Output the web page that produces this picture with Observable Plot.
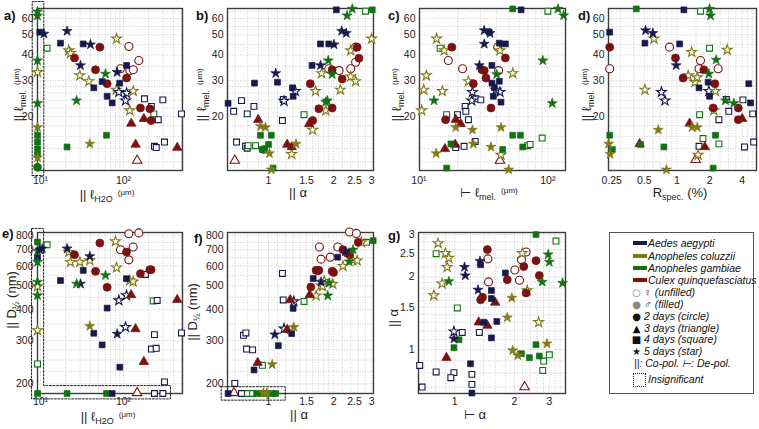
<!DOCTYPE html>
<html><head><meta charset="utf-8">
<script src="https://cdn.jsdelivr.net/npm/d3@7"></script>
<script src="https://cdn.jsdelivr.net/npm/@observablehq/plot@0.6"></script>
<style>
body{margin:0;background:#fff;font-family:"Liberation Sans",Arial,sans-serif;}
#wrap{position:relative;width:759px;height:429px;overflow:hidden;background:#fff;}
.pl{position:absolute;}
.pl svg{overflow:visible;}
.lab{position:absolute;font-size:13px;color:#222;white-space:nowrap;line-height:14px;}
.cx{transform:translate(-50%,-50%);}
.rot{transform:translate(-50%,-50%) rotate(-90deg);}
.plab{position:absolute;font-weight:bold;font-size:13px;color:#111;}
.u{font-size:8px;position:relative;top:-4px;margin-left:5px;}
.lab sub{font-size:9px;vertical-align:-3px;line-height:0;}
.lg{position:absolute;font-size:10.5px;font-style:italic;color:#111;white-space:nowrap;line-height:11px;}
.sw{position:absolute;width:14px;height:4px;}
.sym{position:absolute;top:0;width:11px;text-align:center;font-size:10px;line-height:11px;font-style:normal;font-family:"DejaVu Sans",sans-serif;}
</style></head><body><div id="wrap">
<div class="plab" style="left:4px;top:8px">a)</div>
<div class="plab" style="left:196px;top:8px">b)</div>
<div class="plab" style="left:388px;top:8px">c)</div>
<div class="plab" style="left:578px;top:8px">d)</div>
<div class="plab" style="left:2px;top:226px">e)</div>
<div class="plab" style="left:194px;top:231px">f)</div>
<div class="plab" style="left:388px;top:228px">g)</div>

<div class="lab rot" style="left:20px;top:95px">|| ℓ<sub>mel.</sub><span class="u">(μm)</span></div>
<div class="lab rot" style="left:203px;top:95px">|| ℓ<sub>mel.</sub><span class="u">(μm)</span></div>
<div class="lab rot" style="left:398px;top:95px">|| ℓ<sub>mel.</sub><span class="u">(μm)</span></div>
<div class="lab rot" style="left:588px;top:95px">|| ℓ<sub>mel.</sub><span class="u">(μm)</span></div>
<div class="lab rot" style="left:12px;top:300px">|| D<sub>½</sub> (nm)</div>
<div class="lab rot" style="left:193px;top:312px">|| D<sub>½</sub> (nm)</div>
<div class="lab rot" style="left:394px;top:318px">|| α</div>

<div class="lab cx" style="left:107px;top:196px">|| ℓ<sub>H2O</sub><span class="u">(μm)</span></div>
<div class="lab cx" style="left:298px;top:193px">|| α</div>
<div class="lab cx" style="left:489px;top:194px">⊢ ℓ<sub>mel.</sub><span class="u">(μm)</span></div>
<div class="lab cx" style="left:680px;top:193px">R<sub>spec.</sub> (%)</div>
<div class="lab cx" style="left:108px;top:418px">|| ℓ<sub>H2O</sub><span class="u">(μm)</span></div>
<div class="lab cx" style="left:299px;top:415px">|| α</div>
<div class="lab cx" style="left:475px;top:415px">⊢ α</div>

<div style="position:absolute;left:609px;top:232px;width:143px;height:160px;border:1px solid #555;"></div>
<div class="sw" style="left:633px;top:241px;background:#17194a"></div><div class="lg" style="left:648px;top:238px">Aedes aegypti</div>
<div class="sw" style="left:633px;top:254px;background:#7f7b16"></div><div class="lg" style="left:648px;top:251px">Anopheles coluzzii</div>
<div class="sw" style="left:633px;top:266px;background:#137014"></div><div class="lg" style="left:648px;top:263px">Anopheles gambiae</div>
<div class="sw" style="left:633px;top:278px;background:#7a1212"></div><div class="lg" style="left:648px;top:275px">Culex quinquefasciatus</div>
<div class="lg" style="left:631px;top:287px"><span class="sym" style="left:0;color:#888">○</span><span style="margin-left:13px">♀ (unfilled)</span></div>
<div class="lg" style="left:631px;top:299px"><span class="sym" style="left:0;color:#888">●</span><span style="margin-left:13px">♂ (filled)</span></div>
<div class="lg" style="left:631px;top:311px"><span class="sym" style="left:0">●</span><span style="margin-left:13px">2 days (circle)</span></div>
<div class="lg" style="left:631px;top:323px"><span class="sym" style="left:0">▲</span><span style="margin-left:13px">3 days (triangle)</span></div>
<div class="lg" style="left:631px;top:334px"><span class="sym" style="left:0">■</span><span style="margin-left:13px">4 days (square)</span></div>
<div class="lg" style="left:631px;top:346px"><span class="sym" style="left:0">★</span><span style="margin-left:13px">5 days (star)</span></div>
<div class="lg" style="left:634px;top:358px">||: Co-pol.  ⊢: De-pol.</div>
<div style="position:absolute;left:633px;top:373px;width:11px;height:12px;border:1px dotted #222;"></div><div class="lg" style="left:648px;top:374px">Insignificant</div>
</div>
<script>
const spName = {A:"Aedes aegypti", C:"Anopheles coluzzii", G:"Anopheles gambiae", Q:"Culex quinquefasciatus"};
const species = ["Aedes aegypti","Anopheles coluzzii","Anopheles gambiae","Culex quinquefasciatus"];
const speciesColors = ["#17194a","#7f7b16","#137014","#7a1212"];

// [species, sex (F unfilled / M filled), shape (c circle, t triangle, s square, * star), x, y]
const panelA = [
["G","M","*",9.2,65],["G","M","*",9.2,62],["G","M","*",9.2,37.5],["C","F","*",9.2,32.9],["G","M","*",9.2,23.2],["C","M","*",9.2,17.7],["G","M","s",9.2,16.2],["G","M","s",9.2,15],["G","M","s",9.2,13.9],["G","M","s",9.2,13],["C","M","*",9.2,12.6],["G","M","c",9.2,11.3],
["A","M","s",9.8,51.6],["A","M","*",11,50.6],["G","F","s",12,43.1],["A","M","*",20.9,52.2],["A","M","s",17.4,45.6],["A","M","s",32.7,45.2],["A","M","*",40,44.9],["Q","M","c",51.9,43.6],["C","F","*",82.4,47.9],["C","F","*",21.9,42],["C","F","*",23,40.7],["Q","M","c",25.7,38.6],["A","M","*",30.3,35.5],["Q","M","c",46,33.8],["G","M","*",60.7,32.3],["C","F","*",29.8,31.7],["C","F","*",38.2,29.7],["A","M","s",55.3,29.6],["A","M","s",43.9,27.6],["Q","M","c",63.5,28.9],["A","M","*",83.9,32.9],["Q","F","c",116,43.9],["Q","F","c",153,37.5],["Q","F","c",92,34.2],["Q","F","c",119,33.5],["Q","F","c",131,33.8],["A","M","s",109,35.5],["Q","M","c",109,30.8],["A","M","s",90,29.1],["C","F","*",82,27],["A","F","*",88,26.3],["A","F","*",109,26],["A","F","*",106,23.9],["C","F","*",131,26.6],["A","M","s",63.5,25.1],["A","M","s",73,23.3],["G","M","*",27.2,23.9],["C","F","*",119,21.4],["A","F","s",179,24.4],["A","F","s",298,24.1],["A","F","s",217,22.4],["G","F","s",232,20.6],["A","F","s",262,19.3],["A","F","s",500,20.6],["Q","M","c",160,22],["Q","M","c",208,21.8],["Q","M","c",215,19.1],["Q","M","t",124,18.5],["Q","M","t",176,19.5],["G","M","s",62.4,16.2],["G","M","s",20.9,14.2],["C","M","*",39.3,14.7],["Q","M","t",140,14.6],["A","F","s",236,14.3],["A","F","s",248,14.1],["A","F","s",312,15],["Q","M","t",444,14.1],["Q","F","t",146,12.2]
];
const panelB = [
["A","M","s",2.06,66.3],["G","M","*",2.44,67],["G","M","*",2.31,62.2],["G","F","s",2.81,65.3],["G","M","s",3.02,66.3],["A","M","*",2.18,52.2],["A","M","*",2.29,51],["C","F","*",3.0,47.9],["A","M","s",1.74,45.2],["A","M","s",1.9,45.2],["A","M","*",2.01,44.9],["Q","F","c",2.53,43.6],["Q","M","c",2.57,43.6],["C","F","*",2.4,42],["A","M","s",1.59,35.5],["A","M","*",1.74,35.5],["G","M","*",1.89,37.5],["C","F","*",1.76,32.5],["Q","M","c",2.62,38.5],["Q","F","c",2.53,36.8],["Q","F","c",1.9,34.2],["Q","F","c",2.12,33.5],["Q","F","c",2.4,34.2],["Q","M","c",1.97,33.8],["G","M","*",1.97,32.1],["Q","M","c",2.19,30.5],["C","F","*",2.4,31.3],["C","F","*",2.53,29.7],["C","F","*",2.15,27],["A","M","*",1.08,32.5],["A","M","s",1.1,29.4],["A","M","s",0.861,29.1],["A","M","s",1.29,27.6],["A","M","s",1.3,25.1],["A","F","*",1.33,26.6],["A","F","*",1.18,23.8],["A","F","s",1.17,24.2],["Q","M","c",1.56,28.9],["C","F","*",1.65,26.6],["G","M","*",1.87,23.9],["G","M","*",1.84,23.5],["Q","M","c",1.71,21.8],["Q","M","c",1.97,22],["C","F","*",1.84,21.4],["A","M","s",0.65,23.2],["A","F","s",0.69,21.2],["A","F","s",0.75,23.9],["A","F","s",0.797,20.6],["A","F","s",0.856,22.4],["A","F","s",1.16,19.1],["G","F","s",1.46,20.4],["Q","M","t",0.896,19.3],["Q","M","c",1.6,19.1],["Q","M","t",1.54,18.4],["C","F","*",1.6,17.2],["C","M","*",0.918,17.9],["C","M","*",0.968,17.7],["G","M","s",0.918,16.2],["G","M","s",1.03,16.2],["A","F","s",0.711,15],["A","F","s",0.783,14.3],["A","F","s",0.797,14],["G","F","s",0.805,14.4],["G","F","s",0.871,14.4],["G","M","s",0.935,13.8],["G","M","s",1.0,14.6],["G","M","c",0.95,13.8],["C","M","*",1.01,13.2],["Q","M","t",1.22,14.6],["Q","M","t",1.28,14.2],["C","M","*",1.34,14.7],["C","F","*",1.28,13.1],["Q","F","t",0.698,12.2],["G","M","s",1.05,11.2],["C","M","*",1.03,11]
];
const panelC = [
["G","M","s",53.4,67],["A","M","s",62,66.3],["G","F","s",100,65.3],["G","M","*",119.7,67],["G","M","*",132.5,62.2],["C","F","*",13.7,47.9],["G","F","s",14.6,43.1],["C","F","*",15.7,42],["Q","M","c",18,43.6],["A","M","*",32.1,52.6],["A","M","*",35.6,51],["A","M","s",35.1,51.6],["A","M","*",32.1,45.2],["A","M","s",42,45.6],["A","M","s",46.8,45.2],["Q","F","c",40.8,43.6],["C","F","*",42.5,42],["Q","M","c",46.8,38.6],["Q","F","c",16.9,37.5],["Q","F","c",21.8,34.2],["Q","M","c",30.8,33.8],["Q","M","c",32.1,33.5],["A","M","*",29.4,35.5],["Q","M","c",33.1,30.8],["Q","F","c",41.5,33.5],["A","M","s",36.8,35.5],["G","M","*",40.1,32.1],["C","F","*",53.4,32.5],["C","F","*",11.4,31.7],["C","F","*",10.9,27],["C","F","*",10.5,21.4],["C","F","*",15.2,26.6],["G","M","*",13.1,23.9],["C","F","*",24.2,29.7],["Q","M","c",26.4,28.9],["A","M","s",36.8,29.1],["A","M","s",42,29.7],["A","M","s",38.4,27.6],["A","M","s",37.7,25.1],["A","M","s",43.3,23.5],["A","F","*",26,26.3],["A","F","*",25.7,23.9],["A","F","*",42.5,26.3],["A","F","*",39.6,27],["A","F","s",27.7,24.4],["A","F","s",30.2,24.1],["A","F","s",22.8,22.4],["A","F","s",23.1,21.2],["A","F","s",19.9,20.4],["A","F","s",24.2,19.3],["Q","M","c",36.2,22],["G","M","*",91.4,37.5],["G","M","*",108,23.2],["G","F","s",16.4,20.4],["Q","M","c",16.1,19.3],["Q","M","t",19.3,19.3],["Q","M","t",21.1,18.4],["C","M","*",19.3,17.7],["C","M","*",26,17.2],["C","M","*",43.3,17.7],["G","M","s",53.4,16.2],["G","M","s",61.2,16.2],["G","M","s",63.8,14.2],["G","F","s",90.3,15.7],["G","F","s",69.8,14.4],["G","F","s",72.8,14.6],["A","F","s",27.3,15.1],["A","F","s",22.4,14.3],["A","F","s",19.3,14.1],["G","M","s",17.7,14.7],["Q","M","t",19.1,14.6],["Q","M","t",15.9,13.9],["C","M","*",26.4,14.7],["C","M","*",36.2,14.2],["C","M","*",13.6,13.2],["G","M","s",44.6,13.8],["C","F","*",43.3,13],["Q","F","t",42.5,12.2],["G","M","s",16.4,11.2],["C","M","*",49.7,11]
];
const panelD = [
["G","M","s",0.422,67],["A","M","s",1.16,66.3],["G","F","s",1.65,65.3],["G","M","*",2.0,67],["G","M","*",2.04,62.2],["A","M","s",0.24,51.6],["A","M","*",0.514,52.6],["A","M","*",0.6,51],["C","F","*",0.614,47.9],["A","M","s",0.507,45.6],["A","M","s",1.06,45.2],["Q","M","c",0.24,43.6],["Q","F","c",0.856,43.6],["Q","F","c",0.24,34.2],["C","F","*",1.37,41.2],["C","F","*",2.91,42.3],["G","F","s",2.0,43.1],["Q","M","c",0.97,38.6],["A","M","*",0.985,35.5],["Q","F","c",1.65,37.5],["G","M","*",2.3,37.8],["Q","M","c",1.14,30.8],["Q","F","c",1.6,34.2],["Q","F","c",2.4,34.2],["Q","M","c",1.77,33.8],["C","F","*",1.27,31.7],["C","F","*",1.47,29.4],["C","F","*",1.54,31],["A","M","s",1.6,27.6],["A","M","s",1.94,29.4],["A","M","s",2.0,25.1],["Q","M","c",2.24,28.9],["G","M","*",1.97,32.3],["C","F","*",0.507,27],["A","F","*",0.72,26.3],["A","F","*",0.776,23.9],["A","F","*",1.97,26.6],["C","F","*",2.27,26.6],["A","M","s",4.6,28.9],["A","M","s",4.77,23.3],["G","M","*",2.81,23.9],["G","M","*",3.35,23.2],["A","F","s",2.85,24.2],["A","F","s",3.01,21.2],["A","F","s",4.06,24.1],["A","F","s",5.0,20.6],["A","F","s",2.44,19.3],["Q","M","c",3.68,22],["Q","M","c",2.16,22],["Q","M","c",3.68,19.3],["Q","M","t",4.0,19.5],["C","F","*",2.19,21.4],["G","F","s",1.62,20.4],["Q","M","t",1.31,18.5],["C","M","*",1.54,17.7],["C","M","*",1.38,17.7],["C","M","*",0.673,17.2],["G","M","s",0.24,16.2],["G","M","s",2.27,16.2],["G","F","s",1.74,15.6],["A","F","s",1.6,14.3],["A","F","s",4.2,14.2],["A","F","s",5.1,15],["G","F","s",2.44,14.7],["C","M","*",0.235,14.7],["C","M","*",0.242,13.1],["G","M","s",0.254,13.8],["G","M","s",0.463,14.6],["Q","M","t",0.453,14.7],["G","M","s",0.759,14.2],["Q","M","t",1.81,14.2],["C","F","*",1.57,13],["Q","F","t",1.49,12.3],["G","M","s",2.16,11.2],["C","M","*",0.8,11]
];
const panelE = [
["G","M","s",9.2,752],["G","M","*",9.2,692],["G","M","*",9.2,624],["A","M","s",9.2,650],["G","M","*",9.2,518],["G","M","*",9.2,457],["C","F","*",9.2,497],["C","F","*",9.2,330],["G","F","s",9.2,241],["A","M","*",10.5,707],["A","M","*",9.8,700],["G","F","s",12,733],
["G","M","s",9.2,183],["G","M","s",20.9,183],["G","M","s",62.4,183],["A","M","s",73,183],["Q","F","t",146,184],["A","F","s",236,183],["A","F","s",298,183],
["A","M","*",20.9,707],["A","M","*",30.3,509],["A","M","*",39.3,658],["C","F","*",21.9,685],["C","F","*",23,624],["C","F","*",29.8,624],["C","F","*",39.3,634],["C","F","*",80.1,757],["C","F","*",82.4,592],["Q","M","c",25.7,668],["Q","M","c",51.9,745],["Q","M","c",46,572],["Q","M","c",63.5,493],["Q","M","c",108.6,685],["Q","M","c",160,560],["Q","M","c",207.5,581],["Q","M","c",215,581],["Q","F","c",115.9,813],["Q","F","c",153,819],["Q","F","c",92,700],["Q","F","c",130.7,718],["Q","F","c",115.9,637],["A","M","s",17.4,525],["A","M","s",32.7,577],["A","M","s",108.6,534],["G","M","*",60.7,551],["G","M","*",27.2,509],["C","F","*",119,525],["C","F","*",130.7,520],["A","M","s",63.5,406],["A","M","s",43.9,321],["A","M","s",55.3,288],["A","M","s",90.3,234],["A","F","*",87.9,436],["A","F","*",108.6,457],["A","F","*",105.7,340],["Q","M","t",123.6,459],["Q","M","t",139.6,334],["Q","M","t",175.8,246],["Q","M","t",443.6,439],["C","M","*",39.3,343],["A","M","*",83.9,319],["G","F","s",227.7,434],["A","F","s",254.5,436],["A","F","s",236,317],["A","F","s",217,277],["A","F","s",247.6,279],["A","F","s",311.9,204],["A","F","s",500,322],["A","F","s",184,556]
];
const panelF = [
["A","M","s",0.65,183],["Q","F","t",0.692,184],["A","F","s",0.75,183],["G","F","s",0.8,183],["G","F","s",0.844,183],["G","M","s",0.881,183],["G","M","s",0.931,183],["G","M","s",0.982,183],["G","M","s",1.04,183],["G","M","s",1.08,183],["C","M","*",0.947,184],["C","M","*",0.982,184],
["A","F","s",0.698,201],["A","F","s",0.766,315],["A","F","s",0.786,322],["A","F","s",0.791,277],["A","F","s",0.844,275],["Q","M","t",0.891,244],["G","F","s",0.937,238],["A","M","s",0.857,228],["C","M","*",1.04,240],["A","M","s",1.11,286],["A","M","*",1.07,317],["A","F","*",1.18,335],["Q","M","t",1.22,332],["C","M","*",1.31,340],["A","M","s",1.28,320],["A","F","s",1.16,561],["A","F","s",1.17,438],["Q","M","t",1.26,438],["A","F","*",1.31,432],["A","M","s",1.3,405],["G","F","s",1.46,432],["Q","M","t",1.55,459],["Q","M","c",1.57,494],["A","M","s",1.61,535],["C","F","*",1.66,456],["C","F","*",1.75,502],["Q","M","c",1.66,578],["Q","M","c",1.69,575],["Q","M","c",1.71,578],["A","M","*",1.75,518],["C","F","*",1.78,497],["Q","M","c",1.97,573],["Q","M","c",2.0,566],["C","F","*",1.81,523],["C","F","*",1.98,509],["G","M","*",1.91,513],["G","M","*",1.88,456],["Q","F","c",1.72,718],["Q","F","c",1.75,641],["Q","F","c",1.93,653],["Q","F","c",2.09,718],["A","M","s",2.09,653],["Q","F","c",2.37,826],["Q","F","c",2.55,815],["Q","M","c",2.21,700],["Q","M","c",2.31,678],["Q","M","c",2.37,668],["G","M","*",2.36,627],["G","M","*",2.46,700],["C","F","*",2.21,601],["C","F","*",2.46,636],["C","F","*",2.57,632],["C","F","*",2.69,750],["Q","M","c",2.6,750],["G","F","s",2.84,750],["G","M","s",3.05,762],["A","M","*",2.27,689]
];
const panelG = [
["C","F","*",0.824,2.76],["C","F","*",0.897,2.51],["C","F","*",0.933,2.4],["C","F","*",0.915,2.2],["C","F","*",0.863,1.88],["C","F","*",0.784,1.68],["G","F","s",0.805,2.5],["G","M","*",0.933,1.92],["A","M","*",1.12,2.2],["A","M","*",1.13,2.03],["A","M","s",1.35,2.25],["A","M","*",1.34,2.33],["Q","M","c",1.46,2.6],["Q","F","c",1.47,2.38],["Q","F","c",1.48,1.91],["A","M","s",1.8,2.08],["Q","M","c",1.84,1.95],["Q","F","c",2.01,2.14],["Q","F","c",2.12,1.94],["Q","F","c",2.29,2.54],["Q","F","c",2.17,2.36],["Q","M","c",2.23,2.21],["Q","M","c",2.29,1.72],["Q","M","c",2.67,2.03],["Q","M","c",2.57,2.34],["C","F","*",2.19,2.51],["C","F","*",2.32,1.76],["A","M","*",1.31,1.77],["A","M","s",1.53,1.76],["A","M","s",1.53,1.63],["Q","M","c",1.35,1.61],["Q","M","c",1.38,1.65],["Q","M","t",1.6,1.57],["C","M","*",1.94,1.64],["G","F","s",1.03,1.49],["G","M","s",2.57,3.0],["G","F","s",3.24,2.82],["G","M","*",2.96,2.48],["G","M","*",3.0,2.31],["G","M","*",2.76,1.91],["G","M","*",3.5,1.89],["C","F","*",2.65,1.3],["C","M","*",1.84,1.36],["A","M","s",1.63,1.31],["A","M","s",1.53,1.12],["A","M","s",1.4,1.3],["Q","M","t",1.32,1.3],["Q","M","t",1.46,1.26],["A","F","s",1.33,1.18],["A","F","s",1.09,1.18],["A","F","*",0.99,1.19],["A","M","*",0.99,1.11],["G","M","s",1.05,1.1],["G","M","s",0.99,1.02],["Q","M","t",0.908,0.927],["C","M","*",1.96,0.994],["C","M","*",2.08,0.947],["C","M","*",2.92,1.06],["G","M","s",2.17,0.963],["G","M","s",2.38,0.927],["G","M","s",2.57,1.05],["G","M","s",2.67,0.942],["G","F","s",3.0,0.953],["G","F","s",2.81,0.898],["G","F","s",2.78,0.821],["A","M","s",1.2,0.875],["A","F","s",0.665,0.861],["A","F","s",0.805,0.809],["A","F","s",0.99,0.804],["A","F","s",0.955,0.766],["A","F","s",1.22,0.791],["A","F","s",1.22,0.719],["A","F","s",0.684,0.701],["Q","F","t",2.25,0.701],["A","M","s",1.22,0.662]
];

// insignificant outlines (data space)
const boxA = [[7.94,10.3],[10.96,10.3],[10.96,72.8],[7.94,72.8],[7.94,10.3]];
const boxE = [[7.8,853],[10.9,853],[10.9,197],[368,197],[368,174],[7.8,174],[7.8,853]];
const boxF = [[0.604,195],[1.195,195],[1.195,172],[0.604,172],[0.604,195]];

// ticks and tick labels
const ticksH2O = [10,100], ticksH2OLabels = ["10¹","10²"];
const ticksLmel = [20,30,40,50,60];
const ticksAlpha = [1,1.5,2,2.5,3];
const ticksLmelDe = [10,100], ticksLmelDeLabels = ["10¹","10²"];
const ticksRspec = [0.25,0.5,1,2,4], ticksRspecLabels = ["0.25","0.5","1","2","4"];
const ticksD = [200,300,400,500,600,700,800];
const ticksAlphaDe = [1,2,3];
// grid values
const gridH2O = [10,20,30,40,50,60,70,80,90,100,200,300,400,500];
const gridLmel = [12,14,16,18,20,22,24,26,28,30,35,40,45,50,55,60,65];
const gridAlpha = [0.7,0.8,0.9,1,1.1,1.2,1.3,1.4,1.5,1.6,1.7,1.8,1.9,2,2.2,2.4,2.6,2.8,3];
const gridLmelDe = [10,20,30,40,50,60,70,80,90,100];
const gridRspec = [0.25,0.3,0.4,0.5,0.6,0.7,0.8,0.9,1,1.5,2,2.5,3,3.5,4,4.5,5];
const gridD = [200,225,250,275,300,350,400,450,500,550,600,650,700,750,800];
const gridAlphaDe = [0.7,0.8,0.9,1,1.2,1.4,1.6,1.8,2,2.2,2.4,2.6,2.8,3,3.2,3.4];
const gridAlphaCo = [0.7,0.8,0.9,1,1.1,1.2,1.3,1.4,1.5,1.6,1.7,1.8,1.9,2,2.2,2.4,2.6,2.8,3];

const shapeSym = {c:"circle", t:"triangle", s:"square", "*":"star"};
const shapeR = {c:4, t:3.5, s:3.3, "*":3.1};
const wrap = document.getElementById("wrap");

function lbl(ticks, labels){ return d => { const i = ticks.indexOf(d); return labels ? labels[i] : String(d); }; }

function panel(o){
  const data = o.data.map(([s,sex,sh,x,y]) => ({sp: spName[s], sex, sh, x, y}));
  const inD = (dom) => v => v >= dom[0] && v <= dom[1];
  const marks = [
    Plot.ruleX(o.gridX.filter(inD(o.xDomain)), {stroke:"#c2c2c2", strokeWidth:0.8, strokeDasharray:"1,1.6"}),
    Plot.ruleY(o.gridY.filter(inD(o.yDomain)), {stroke:"#c2c2c2", strokeWidth:0.8, strokeDasharray:"1,1.6"}),
    Plot.frame({stroke:"#3c3c3c", strokeWidth:1.4})
  ];
  if (o.box) marks.push(Plot.line(o.box, {x: d => d[0], y: d => d[1], stroke:"#222", strokeWidth:1, strokeDasharray:"2,1.5"}));
  for (const sex of ["F","M"]) for (const sh of ["c","t","s","*"]) {
    const sub = data.filter(d => d.sex === sex && d.sh === sh);
    if (!sub.length) continue;
    marks.push(Plot.dot(sub, {x:"x", y:"y", symbol: shapeSym[sh], r: shapeR[sh],
      fill: sex === "F" ? "white" : "sp", stroke: "sp", strokeWidth: sex === "F" ? 1.1 : 0.7}));
  }
  const svg = Plot.plot({
    width: o.width, height: o.height,
    marginLeft: o.ml, marginRight: o.mr, marginTop: o.mt, marginBottom: o.mb,
    x: {type:"log", domain:o.xDomain, ticks:o.xTicks, tickFormat:o.xFmt, tickSize:0, tickPadding:o.xpad, label:null},
    y: {type:"log", domain:o.yDomain, ticks:o.yTicks, tickFormat:o.yFmt, tickSize:0, tickPadding:4, label:null},
    color: {domain: species, range: speciesColors},
    style: {fontSize:"10.5px", fontFamily:"'Liberation Sans', Arial, sans-serif", color:"#222", background:"transparent", overflow:"visible"},
    marks
  });
  const div = document.createElement("div");
  div.className = "pl";
  div.style.left = o.left + "px"; div.style.top = o.top + "px";
  div.appendChild(svg);
  wrap.insertBefore(div, wrap.firstChild);
}

const topRow = {top:0, width:190, height:210, mt:8, mb:40, xpad:6, yDomain:[10.9,67.3], yTicks:ticksLmel, yFmt:lbl(ticksLmel), gridY:gridLmel};
const botRow = {top:215, width:190, height:214, mt:17, mb:36, xpad:4};

panel({...topRow, data:panelA, left:0, ml:37, mr:8, xDomain:[9.2,514], xTicks:ticksH2O, xFmt:lbl(ticksH2O,ticksH2OLabels), gridX:gridH2O, box:boxA});
panel({...topRow, data:panelB, left:190, ml:37, mr:7, xDomain:[0.646,3.06], xTicks:ticksAlpha, xFmt:lbl(ticksAlpha), gridX:gridAlpha});
panel({...topRow, data:panelC, left:380, ml:39, mr:5, xDomain:[10.1,137], xTicks:ticksLmelDe, xFmt:lbl(ticksLmelDe,ticksLmelDeLabels), gridX:gridLmelDe});
panel({...topRow, data:panelD, left:570, width:189, ml:38, mr:3, xDomain:[0.234,5.42], xTicks:ticksRspec, xFmt:lbl(ticksRspec,ticksRspecLabels), gridX:gridRspec});
panel({...botRow, data:panelE, left:0, ml:37, mr:8, xDomain:[9.2,514], xTicks:ticksH2O, xFmt:lbl(ticksH2O,ticksH2OLabels), gridX:gridH2O, yDomain:[183,822], yTicks:ticksD, yFmt:lbl(ticksD), gridY:gridD, box:boxE});
panel({...botRow, data:panelF, left:190, ml:37, mr:7, xDomain:[0.646,3.06], xTicks:ticksAlpha, xFmt:lbl(ticksAlpha), gridX:gridAlpha, yDomain:[183,822], yTicks:ticksD, yFmt:lbl(ticksD), gridY:gridD, box:boxF});
panel({...botRow, data:panelG, left:380, ml:38, mr:5, xDomain:[0.656,3.62], xTicks:ticksAlphaDe, xFmt:lbl(ticksAlphaDe), gridX:gridAlphaDe, yDomain:[0.659,3.06], yTicks:ticksAlpha, yFmt:lbl(ticksAlpha), gridY:gridAlphaCo});
</script></body></html>
